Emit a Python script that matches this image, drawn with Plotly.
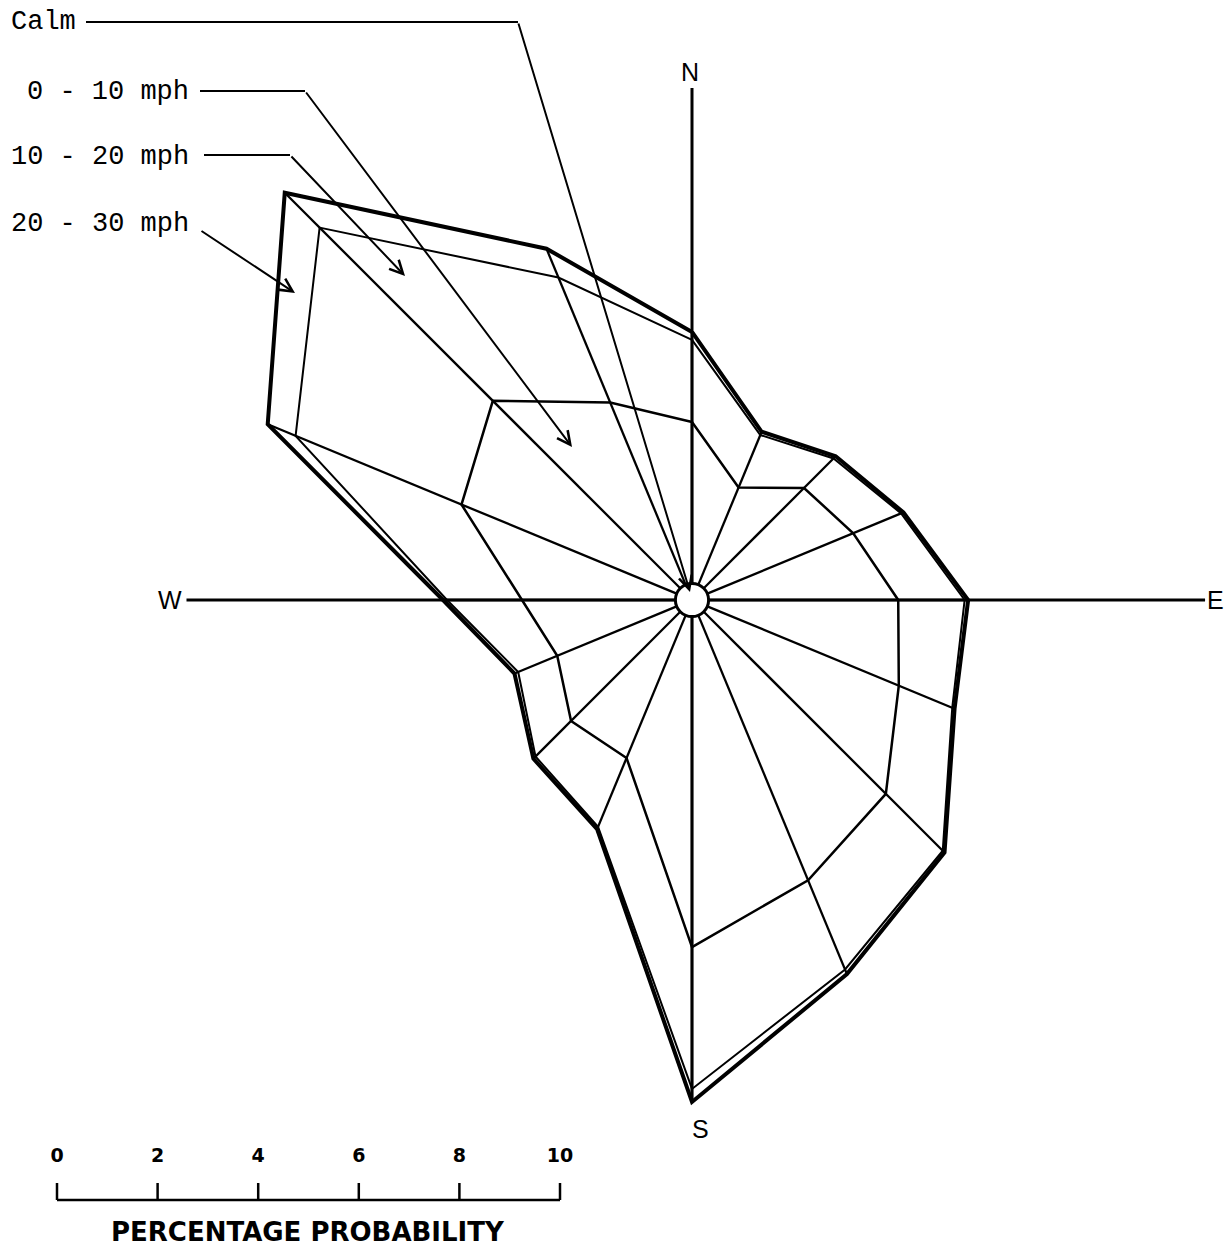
import numpy as np
import plotly.graph_objects as go

# ---------------- data ----------------
directions = ["N", "NNE", "NE", "ENE", "E", "ESE", "SE", "SSE",
              "S", "SSW", "SW", "WSW", "W", "WNW", "NW", "NNW"]
speed_classes = ["0 - 10 mph", "10 - 20 mph", "20 - 30 mph"]
# cumulative percentage probability per direction
pct_0_10 = [3.54, 2.42, 3.15, 3.47, 4.10, 4.45, 5.45, 6.03,
            6.90, 3.40, 3.40, 2.90, 3.38, 4.96, 5.60, 4.25]
pct_0_20 = [5.17, 3.55, 3.98, 4.50, 5.42, 5.60, 7.05, 7.95,
            9.72, 4.88, 4.40, 3.74, 4.87, 8.53, 10.47, 6.94]
pct_0_30 = [5.33, 3.62, 4.04, 4.55, 5.49, 5.65, 7.10, 8.05,
            9.98, 4.93, 4.46, 3.82, 4.95, 9.13, 11.45, 7.56]
calm_pct = 0.33
scale_ticks = [0, 2, 4, 6, 8, 10]
scale_title = "PERCENTAGE PROBABILITY"
compass_labels = ["N", "E", "S", "W"]

# ---------------- layout constants ----------------
W, H = 1226, 1251
CX, CY = 692, 600       # pixel position of the rose centre
PPU = 50.3              # pixels per 1 % probability

def p2d(px, py):
    return (px - CX) / PPU, (CY - py) / PPU

theta = np.deg2rad(np.arange(len(directions)) * 22.5)

def polar_xy(r):
    r = np.asarray(r, dtype=float)
    return r * np.sin(theta), r * np.cos(theta)

def closed(a):
    return list(a) + [a[0]]

fig = go.Figure()

# spokes from calm circle to outer polygon
sx, sy = [], []
ox, oy = polar_xy(pct_0_30)
cx_, cy_ = polar_xy([calm_pct] * len(directions))
for i in range(len(directions)):
    sx += [cx_[i], ox[i], None]
    sy += [cy_[i], oy[i], None]
fig.add_trace(go.Scatter(x=sx, y=sy, mode="lines",
                         line=dict(color="black", width=2.3), hoverinfo="skip"))

# compass axes
n_len, e_len, w_len = 10.18, 10.2, 10.05
s_len = pct_0_30[directions.index("S")]
fig.add_trace(go.Scatter(x=[0, 0, None, -w_len, e_len],
                         y=[n_len, -s_len, None, 0, 0], mode="lines",
                         line=dict(color="black", width=3), hoverinfo="skip"))

# polygons
for vals, w in [(pct_0_10, 2.5), (pct_0_20, 2.0), (pct_0_30, 4.0)]:
    x, y = polar_xy(vals)
    fig.add_trace(go.Scatter(x=closed(x), y=closed(y), mode="lines",
                             line=dict(color="black", width=w), hoverinfo="skip"))

# calm circle
fig.add_shape(type="circle", xref="x", yref="y",
              x0=-calm_pct, y0=-calm_pct, x1=calm_pct, y1=calm_pct,
              line=dict(color="black", width=3), fillcolor="white", layer="above")

# compass labels
lab_pos = {"N": p2d(690, 72), "E": p2d(1215, 600), "S": p2d(700, 1129), "W": p2d(170, 600)}
for lab in compass_labels:
    lx, ly = lab_pos[lab]
    fig.add_annotation(x=lx, y=ly, text=lab, showarrow=False, xref="x", yref="y",
                       font=dict(family="Liberation Sans, Arial", size=25, color="black"))

# legend text with leader lines
mono = dict(family="Liberation Mono, Courier New, monospace", size=27, color="black")
legend_items = ["Calm"] + speed_classes
text_pos = [(9, 22, "left"), (191, 92, "right"), (191, 157, "right"), (191, 224, "right")]
leaders = [
    [(86, 22), (518, 22), (690, 592)],
    [(200, 91), (305, 91), (572, 447)],
    [(204, 155), (290, 155), (405, 276)],
    [(200, 230), (295, 293)],
]
for name, (tx, ty, anc), pts in zip(legend_items, text_pos, leaders):
    x0, y0 = p2d(tx, ty)
    fig.add_annotation(x=x0, y=y0, text=name, showarrow=False, xref="x", yref="y",
                       xanchor=anc, yanchor="middle", font=mono)
    if len(pts) > 2:
        path = "M " + " L ".join("%f,%f" % p2d(*p) for p in pts[:-1])
        fig.add_shape(type="path", path=path, xref="x", yref="y",
                      line=dict(color="black", width=2.2))
    ax_, ay_ = p2d(*pts[-2])
    hx, hy = p2d(*pts[-1])
    fig.add_annotation(x=hx, y=hy, ax=ax_, ay=ay_, axref="x", ayref="y",
                       xref="x", yref="y", text="", showarrow=True,
                       arrowhead=5, arrowsize=1.3, arrowwidth=2, arrowcolor="black")

# percentage scale bar
bx0, by0 = p2d(57, 1200)
tick_h = 17 / PPU
bx, by = [bx0, bx0 + scale_ticks[-1], None], [by0, by0, None]
for t in scale_ticks:
    bx += [bx0 + t, bx0 + t, None]
    by += [by0, by0 + tick_h, None]
fig.add_trace(go.Scatter(x=bx, y=by, mode="lines",
                         line=dict(color="black", width=2.5), hoverinfo="skip"))
fig.add_trace(go.Scatter(x=[bx0 + t for t in scale_ticks],
                         y=[by0 + 43 / PPU] * len(scale_ticks),
                         mode="text", text=[str(t) for t in scale_ticks],
                         textfont=dict(family="DejaVu Sans, Arial", size=19,
                                       color="black", weight="bold"),
                         hoverinfo="skip"))
tx_, ty_ = p2d(308, 1232)
fig.add_annotation(x=tx_, y=ty_, text=scale_title, showarrow=False, xref="x", yref="y",
                   font=dict(family="DejaVu Sans, Arial", size=26, color="black",
                             weight="bold"))

fig.update_layout(
    width=W, height=H, margin=dict(l=0, r=0, t=0, b=0),
    paper_bgcolor="white", plot_bgcolor="white", showlegend=False,
    xaxis=dict(range=[-CX / PPU, (W - CX) / PPU], visible=False, fixedrange=True),
    yaxis=dict(range=[-(H - CY) / PPU, CY / PPU], visible=False, fixedrange=True),
)

fig.write_html("out.html", config={"displayModeBar": False},
               post_script="document.body.style.margin='0';document.body.style.overflow='hidden';")
